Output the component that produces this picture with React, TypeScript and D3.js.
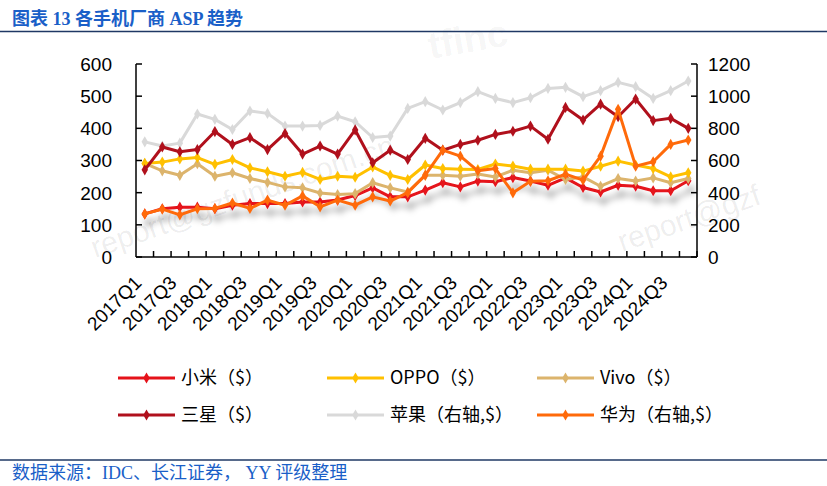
import React from "react";
import * as d3 from "d3";

const quarters = [
  "2017Q1","2017Q2","2017Q3","2017Q4","2018Q1","2018Q2","2018Q3","2018Q4",
  "2019Q1","2019Q2","2019Q3","2019Q4","2020Q1","2020Q2","2020Q3","2020Q4",
  "2021Q1","2021Q2","2021Q3","2021Q4","2022Q1","2022Q2","2022Q3","2022Q4",
  "2023Q1","2023Q2","2023Q3","2023Q4","2024Q1","2024Q2","2024Q3","2024Q4",
];
const xLabels = ["2017Q1","2017Q3","2018Q1","2018Q3","2019Q1","2019Q3","2020Q1","2020Q3","2021Q1","2021Q3","2022Q1","2022Q3","2023Q1","2023Q3","2024Q1","2024Q3"];
const leftTicks = [0, 100, 200, 300, 400, 500, 600];
const rightTicks = [0, 200, 400, 600, 800, 1000, 1200];

const xiaomi = [134,150,155,155,150,161,166,166,166,171,171,177,191,215,187,187,208,231,218,236,234,247,236,223,246,216,202,223,220,206,206,237];
const oppo = [291,295,305,309,288,303,277,265,251,263,241,251,248,280,254,241,286,275,273,272,289,283,273,273,273,267,282,298,286,275,249,262];
const vivo = [291,268,254,290,251,262,244,232,218,215,199,194,197,231,215,202,254,254,251,258,249,270,262,270,241,249,220,244,236,246,231,244];
const samsung = [271,342,327,334,390,350,371,334,384,320,345,320,395,293,332,303,369,332,350,363,381,391,407,366,465,426,475,436,491,424,431,400];
const apple = [716,690,708,889,856,793,908,893,814,814,818,876,841,743,752,924,966,914,960,1028,986,960,990,1048,1055,997,1034,1086,1059,986,1034,1094];
const huawei = [268,298,262,300,302,336,302,354,322,380,312,354,322,374,348,400,509,665,627,536,550,399,471,474,515,478,627,918,565,592,700,727];

const seriesList = [
  { name: "苹果（右轴,$）", data: apple, color: "#d9d9d9", axis: "right", shadow: false },
  { name: "小米（$）", data: xiaomi, color: "#e5121a", axis: "left", shadow: true },
  { name: "Vivo（$）", data: vivo, color: "#dcb46c", axis: "left", shadow: false },
  { name: "OPPO（$）", data: oppo, color: "#ffc000", axis: "left", shadow: false },
  { name: "三星（$）", data: samsung, color: "#b0101c", axis: "left", shadow: false },
  { name: "华为（右轴,$）", data: huawei, color: "#ff6a0a", axis: "right", shadow: false },
];
const legendOrder = ["小米（$）", "OPPO（$）", "Vivo（$）", "三星（$）", "苹果（右轴,$）", "华为（右轴,$）"];

const W = 827, H = 486;
const plotLeft = 136, plotRight = 697, plotTop = 64, plotBottom = 257;

export default function App() {
  const x = d3.scaleBand<string>().domain(quarters).range([plotLeft, plotRight]).padding(0);
  const yL = d3.scaleLinear().domain([0, 600]).range([plotBottom, plotTop]);
  const yR = d3.scaleLinear().domain([0, 1200]).range([plotBottom, plotTop]);
  const cx = (q: string) => (x(q) as number) + x.bandwidth() / 2;
  const diamond = d3.symbol().type(d3.symbolDiamond).size(36);

  const lineFor = (s: any) => {
    const ys = s.axis === "left" ? yL : yR;
    return d3.line<number>().x((_, i) => cx(quarters[i])).y((v) => ys(v))(s.data) as string;
  };

  const legendCols = [118, 327, 537];
  const legendRows = [378, 415];

  return (
    <svg width={W} height={H} style={{ position: "absolute", left: 0, top: 0, background: "#fff" }}>
      <defs>
        <filter id="shadow" x="-10%" y="-50%" width="120%" height="250%">
          <feDropShadow dx="3" dy="9" stdDeviation="3" floodColor="#000" floodOpacity="0.32" />
        </filter>
      </defs>
      <rect width={W} height={H} fill="#fff" />
      {/* watermarks */}
      <text x={470} y={52} fontFamily="Liberation Sans, Arial" fontSize={38} fontWeight="bold" fill="#000" fillOpacity={0.05} textAnchor="middle" transform="rotate(-10 470 52)">tfinc</text>
      <text x={95} y={258} fontFamily="Liberation Sans, Arial" fontSize={30} fill="#000" fillOpacity={0.08} transform="rotate(-19 95 258)">report@gzfunds.com.cn</text>
      <text x={622} y={252} fontFamily="Liberation Sans, Arial" fontSize={30} fill="#000" fillOpacity={0.08} transform="rotate(-19 622 252)">report@gzf</text>

      {/* title */}
      <text x={12} y={25} fontFamily="Liberation Serif, Noto Sans CJK SC" fontSize={18} fontWeight="bold" fill="#1a5fc8">图表 13 各手机厂商 ASP 趋势</text>
      <line x1={0} x2={W} y1={31.5} y2={31.5} stroke="#1f3864" strokeWidth={1.5} />

      {/* axes */}
      <line x1={plotLeft} x2={plotLeft} y1={plotTop} y2={plotBottom} stroke="#000" strokeWidth={1.5} />
      <line x1={plotRight} x2={plotRight} y1={plotTop} y2={plotBottom} stroke="#000" strokeWidth={1.5} />
      <line x1={plotLeft} x2={plotRight} y1={plotBottom} y2={plotBottom} stroke="#000" strokeWidth={1.5} />
      {leftTicks.map((t) => (
        <g key={"l" + t}>
          <line x1={plotLeft} x2={plotLeft + 6} y1={yL(t)} y2={yL(t)} stroke="#000" strokeWidth={1.5} />
          <text x={plotLeft - 24} y={yL(t)} dy="0.36em" textAnchor="end" fontFamily="Liberation Sans, Arial" fontSize={19} fill="#000">{t}</text>
        </g>
      ))}
      {rightTicks.map((t) => (
        <g key={"r" + t}>
          <line x1={plotRight - 6} x2={plotRight} y1={yR(t)} y2={yR(t)} stroke="#000" strokeWidth={1.5} />
          <text x={plotRight + 11} y={yR(t)} dy="0.36em" textAnchor="start" fontFamily="Liberation Sans, Arial" fontSize={19} fill="#000">{t}</text>
        </g>
      ))}
      {quarters.map((q) => (
        <line key={"xt" + q} x1={(x(q) as number) + x.bandwidth()} x2={(x(q) as number) + x.bandwidth()} y1={plotBottom} y2={plotBottom - 6} stroke="#000" strokeWidth={1.5} />
      ))}
      {xLabels.map((q) => {
        const px = cx(q) - 2;
        const py = 284;
        return (
          <text key={"xl" + q} x={px} y={py} textAnchor="end" fontFamily="Liberation Sans, Arial" fontSize={19} fill="#000" transform={`rotate(-45 ${px} ${py})`}>{q}</text>
        );
      })}

      {/* series */}
      {seriesList.map((s) => {
        const ys = s.axis === "left" ? yL : yR;
        return (
          <g key={s.name} filter={s.shadow ? "url(#shadow)" : undefined}>
            <path d={lineFor(s)} fill="none" stroke={s.color} strokeWidth={3} strokeLinejoin="round" />
            {s.data.map((v, i) => (
              <path key={i} d={diamond() as string} transform={`translate(${cx(quarters[i])},${ys(v)})`} fill={s.color} />
            ))}
          </g>
        );
      })}

      {/* legend */}
      {legendOrder.map((name, i) => {
        const s = seriesList.find((d) => d.name === name)!;
        const lx = legendCols[i % 3];
        const ly = legendRows[Math.floor(i / 3)];
        return (
          <g key={"lg" + name}>
            <line x1={lx} x2={lx + 57} y1={ly} y2={ly} stroke={s.color} strokeWidth={3} />
            <path d={diamond() as string} transform={`translate(${lx + 28.5},${ly})`} fill={s.color} />
            <text x={lx + 63} y={ly} dy="0.36em" fontFamily="Noto Sans CJK SC, Noto Sans" fontSize={18} fill="#000">{name}</text>
          </g>
        );
      })}

      {/* footer */}
      <line x1={0} x2={W} y1={460} y2={460} stroke="#1f3864" strokeWidth={1.5} />
      <text x={12} y={479} fontFamily="Liberation Serif, Noto Sans CJK SC" fontSize={18} fill="#1a5fc8">数据来源：IDC、长江证券， YY 评级整理</text>
    </svg>
  );
}
